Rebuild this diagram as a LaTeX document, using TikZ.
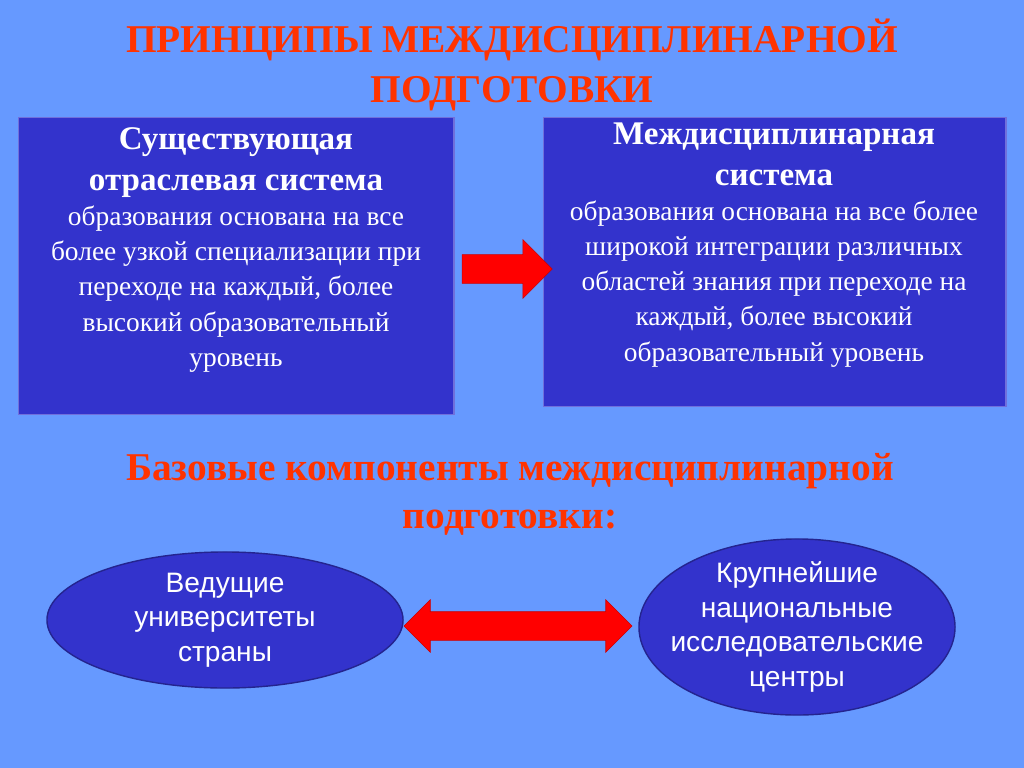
\documentclass[tikz,border=0pt]{standalone}
\usepackage{fontspec}
\setmainfont{Liberation Serif}
\newfontfamily\arialfont{Liberation Sans}
\usetikzlibrary{shapes.geometric,shapes.arrows}
\definecolor{bgblue}{HTML}{6699FF}
\definecolor{boxblue}{HTML}{3333CC}
\definecolor{titlered}{HTML}{FF3300}
\tikzset{
  textbox/.style={rectangle,draw=boxblue!70!white,line width=1pt,fill=boxblue,text=white,anchor=north west,inner sep=0pt},
  boxtext/.style={align=center,text=white,font=\fontsize{19.5}{25}\selectfont},
  oval/.style={ellipse,draw=boxblue!70!black,line width=1pt,fill=boxblue,text=white,align=center,
    font=\arialfont\fontsize{20}{24.5}\selectfont,inner sep=-30pt},
  redarrow/.style={fill=red,draw=red!80!black,inner sep=0pt,text height=0.7cm,text depth=0cm}
}
\newcommand{\boldline}[1]{{\bfseries\fontsize{23.5}{25}\selectfont #1}}
\begin{document}
\begin{tikzpicture}[x=0.025cm,y=-0.025cm]
\fill[bgblue] (0,0) rectangle (1024,768);
\useasboundingbox (0,0) rectangle (1024,768);
%Titles
\node (title) at (512,65) [align=center,text=titlered,font=\bfseries\fontsize{28}{35}\selectfont] {ПРИНЦИПЫ МЕЖДИСЦИПЛИНАРНОЙ\\ПОДГОТОВКИ};
\node (subtitle) at (510,494) [align=center,text=titlered,font=\bfseries\fontsize{28}{34}\selectfont] {Базовые компоненты междисциплинарной\\подготовки:};
%Boxes
\node (oldsys) at (18,117) [textbox,minimum width=10.875cm,minimum height=7.425cm] {};
\node (newsys) at (543,117) [textbox,minimum width=11.55cm,minimum height=7.225cm] {};
\node (oldtext) at (236,250) [boxtext]
  {\boldline{Существующая}\\[4pt]\boldline{отраслевая система}\\образования основана на все\\более узкой специализации при\\переходе на каждый, более\\высокий образовательный\\уровень};
\node (newtext) at (774,245) [boxtext]
  {\boldline{Междисциплинарная}\\[4pt]\boldline{система}\\образования основана на все более\\широкой интеграции различных\\областей знания при переходе на\\каждый, более высокий\\образовательный уровень};
%Ovals
\node (univ) at (225,620) [oval,minimum width=8.9cm,minimum height=3.4cm] {Ведущие\\университеты\\страны};
\node (centers) at (797,627) [oval,minimum width=7.9cm,minimum height=4.4cm] {Крупнейшие\\национальные\\исследовательские\\центры};
%Arrows
\node (arr1) at (500,269) [single arrow,redarrow,single arrow head extend=0.375cm,minimum height=2.25cm] {};
\node (arr2) at (518,626) [double arrow,redarrow,double arrow head extend=0.3cm,minimum height=5.7cm] {};
\end{tikzpicture}
\end{document}
